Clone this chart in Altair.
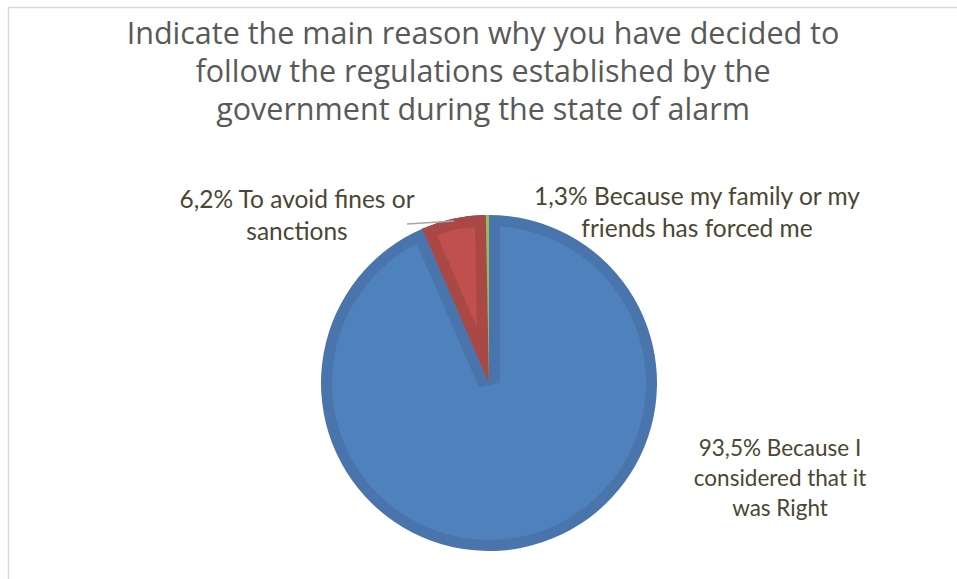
import altair as alt
import pandas as pd

# ---- data ----
categories = [
    "Because I considered that it was Right",
    "To avoid fines or sanctions",
    "Because my family or my friends has forced me",
]
shares = [93.5, 6.2, 0.3]          # angular share as drawn in the picture
order = [0, 1, 2]
label_lines = [
    ["93,5% Because I", "considered that it", "was Right"],
    ["6,2% To avoid fines or", "sanctions"],
    ["1,3% Because my family or my", "friends has forced me"],
]
title_lines = [
    "Indicate the main reason why you have decided to",
    "follow the regulations established by the",
    "government during the state of alarm",
]

fill_colors = ["#4F81BD", "#C0504D", "#9BBB59"]
edge_colors = ["#4A75AC", "#AA4845", "#9BBB59"]

df = pd.DataFrame({"category": categories, "share": shares, "order": order})

W, H = 957, 579
CX, CY = 489, 383
R = 168      # outer radius
B = 11       # width of the darker edge band

one = alt.Data(values=[{}])

border = alt.Chart(one).mark_rect(
    fillOpacity=0, stroke="#d9d9d9", strokeWidth=1.5
).encode(
    x=alt.value(8.5), x2=alt.value(1200), y=alt.value(7.5), y2=alt.value(1200)
)

theta_scale = alt.Scale(domain=[0, 100])
stacked = alt.Chart(df).transform_stack(
    stack="share", as_=["s0", "s1"], groupby=[], sort=[alt.SortField("order")]
)
fill_enc = alt.Color("category:N", scale=alt.Scale(domain=categories, range=fill_colors), legend=None)
edge_enc = alt.Color("category:N", scale=alt.Scale(domain=categories, range=edge_colors), legend=None)
edge_stroke = alt.Stroke("category:N", scale=alt.Scale(domain=categories, range=edge_colors), legend=None)

def arcs(chart):
    return chart.encode(
        theta=alt.Theta("s0:Q", scale=theta_scale),
        theta2="s1:Q",
    )

# 1. full wedges in edge colour
full_all = arcs(stacked).mark_arc(radius=R).encode(
    color=edge_enc, x=alt.value(CX), y=alt.value(CY))
# 2. lighter interior of the big slice
blue_inner = arcs(stacked.transform_filter(alt.datum.order == 0)).mark_arc(radius=R - B).encode(
    color=fill_enc, x=alt.value(CX), y=alt.value(CY))
# 3. dark band of the big slice along its straight edges
notch = arcs(stacked.transform_filter(alt.datum.order > 0)).mark_arc(
    radius=R - B, fillOpacity=0, strokeWidth=2 * B, strokeJoin="bevel", stroke=edge_colors[0]
).encode(x=alt.value(CX), y=alt.value(CY))
# 4. small slices again in edge colour
small_full = arcs(stacked.transform_filter(alt.datum.order > 0)).mark_arc(radius=R).encode(
    color=edge_enc, x=alt.value(CX), y=alt.value(CY))
# 5. lighter interior of the red slice (inset wedge)
red_inner = arcs(
    stacked.transform_filter(alt.datum.order == 1).transform_calculate(
        half=f"(datum.s1 - datum.s0) / 100 * PI",
        mid=f"(datum.s0 + datum.s1) / 100 * PI",
    ).transform_calculate(
        d=f"{B} / sin(datum.half)",
    ).transform_calculate(
        cx=f"{CX} + datum.d * sin(datum.mid)",
        cy=f"{CY} - datum.d * cos(datum.mid)",
        rr=f"{R - B} - datum.d",
    )
).mark_arc().encode(
    color=fill_enc,
    x=alt.X("cx:Q", scale=None),
    y=alt.Y("cy:Q", scale=None),
    radius=alt.Radius("rr:Q", scale=None),
)

title = alt.Chart(one).mark_text(
    text=title_lines, font="Open Sans", fontSize=30.5, color="#595959",
    align="center", baseline="alphabetic", lineHeight=38,
).encode(x=alt.value(483), y=alt.value(44))

label_color = "#4A4633"
lab_blue = alt.Chart(one).mark_text(
    text=label_lines[0], font="Lato", fontSize=22.5, color=label_color,
    align="center", baseline="alphabetic", lineHeight=30,
).encode(x=alt.value(780), y=alt.value(456))

lab_red = alt.Chart(one).mark_text(
    text=label_lines[1], font="Lato", fontSize=24.5, color=label_color,
    align="center", baseline="alphabetic", lineHeight=32,
).encode(x=alt.value(297), y=alt.value(208))

lab_green = alt.Chart(one).mark_text(
    text=label_lines[2], font="Lato", fontSize=24.5, color=label_color,
    align="center", baseline="alphabetic", lineHeight=32,
).encode(x=alt.value(697), y=alt.value(205))

leader = alt.Chart(one).mark_rule(color="#a6a6a6", strokeWidth=1.3).encode(
    x=alt.value(407), y=alt.value(224), x2=alt.value(454), y2=alt.value(221)
)

chart = alt.layer(
    border, full_all, blue_inner, notch, small_full, red_inner,
    leader, title, lab_blue, lab_red, lab_green
).resolve_scale(color="independent", x="independent", y="independent").properties(
    width=W, height=H, padding=0, autosize=alt.AutoSizeParams(type="none")
).configure_view(stroke=None)

chart.save("out.html", embed_options={"renderer": "svg", "actions": False})
